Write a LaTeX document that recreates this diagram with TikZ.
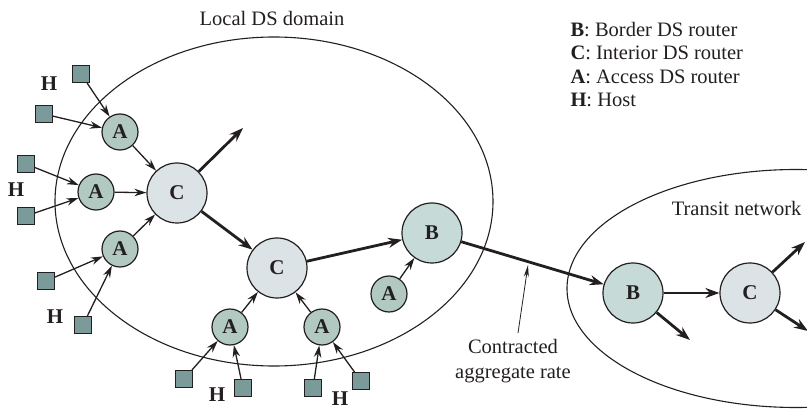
\documentclass[tikz,border=0pt]{standalone}
\usepackage{fontspec}
\setmainfont{Liberation Serif}
\usetikzlibrary{arrows.meta}
\definecolor{afill}{HTML}{B1C9C1}
\definecolor{bfill}{HTML}{C6DBD8}
\definecolor{cfill}{HTML}{DCE3E6}
\definecolor{hfill}{HTML}{7B9B9B}
\definecolor{ink}{HTML}{231F20}
\begin{document}
\begin{tikzpicture}[x=1pt,y=-1pt,
  every node/.style={font=\fontsize{20.5}{24}\selectfont, text=ink},
  anode/.style={circle,draw=ink,line width=1.2pt,fill=afill,minimum size=36pt,inner sep=0pt,font=\fontsize{21}{24}\selectfont\bfseries},
  bnode/.style={anode,fill=bfill,minimum size=60pt},
  cnode/.style={anode,fill=cfill,minimum size=60pt},
  host/.style={rectangle,draw=ink,line width=1pt,fill=hfill,minimum size=17pt,inner sep=0pt},
  hlab/.style={font=\fontsize{21}{24}\selectfont\bfseries,inner sep=1pt},
  tarrow/.style={draw=ink,line width=1.3pt,-{Stealth[length=12pt,width=7.5pt]}},
  karrow/.style={draw=ink,line width=2.8pt,-{Stealth[length=14pt,width=10pt]}},
  parrow/.style={draw=ink,line width=0.8pt,-{Stealth[length=12pt,width=5pt]}},
  dsregion/.style={draw=ink,line width=1.1pt}
]
\useasboundingbox (0,0) rectangle (807,409);
\clip (0,0) rectangle (807,409);

% domains
\draw[dsregion] (274,201.5) ellipse [x radius=219, y radius=164.5];
\draw[dsregion] (796,288.5) ellipse [x radius=229, y radius=119];

% labels
\node[anchor=base] (ldl) at (272,26) {Local DS domain};
\node[anchor=base east] (tnl) at (805,216) {Transit network};
\node[anchor=base west] (lg1) at (567,37) {\textbf{B}: Border DS router};
\node[anchor=base west] (lg2) at (567,60) {\textbf{C}: Interior DS router};
\node[anchor=base west] (lg3) at (567,84) {\textbf{A}: Access DS router};
\node[anchor=base west] (lg4) at (567,107) {\textbf{H}: Host};
\node[anchor=base] (ct1) at (513,353) {Contracted};
\node[anchor=base] (ct2) at (513,378) {aggregate rate};

% routers
\node[anode] (a1) at (120,132) {A};
\node[anode] (a2) at (96,192) {A};
\node[anode] (a3) at (120,249) {A};
\node[cnode] (c1) at (177,193) {C};
\node[cnode] (c2) at (277,268) {C};
\node[bnode] (b1) at (432,233) {B};
\node[anode] (a4) at (389,294) {A};
\node[anode] (a5) at (230,327) {A};
\node[anode] (a6) at (322,327) {A};
\node[bnode] (b2) at (633,293) {B};
\node[cnode] (c3) at (750,293) {C};

% hosts
\node[host] (h1) at (81,74) {};
\node[host] (h2) at (44,114) {};
\node[host] (h3) at (26,164) {};
\node[host] (h4) at (26,216) {};
\node[host] (h5) at (46,281) {};
\node[host] (h6) at (83,325) {};
\node[host] (h7) at (184,379) {};
\node[host] (h8) at (243,388) {};
\node[host] (h9) at (313,388) {};
\node[host] (h10) at (361,381) {};

% host labels
\node[hlab] (hl1) at (49,84) {H};
\node[hlab] (hl2) at (16,190) {H};
\node[hlab] (hl3) at (55,317) {H};
\node[hlab] (hl4) at (217,395) {H};
\node[hlab] (hl5) at (340,399) {H};

% free ends
\coordinate (o1) at (243,128);
\coordinate (o2) at (690,340);
\coordinate (o3) at (805,242);
\coordinate (o4) at (808,331);
\coordinate (rateFoot) at (518,333);
\coordinate (rateTip) at (528,265);

% host links
\draw[tarrow] (h1) -- (a1);
\draw[tarrow] (h2) -- (a1);
\draw[tarrow] (h3) -- (a2);
\draw[tarrow] (h4) -- (a2);
\draw[tarrow] (h5) -- (a3);
\draw[tarrow] (h6) -- (a3);
\draw[tarrow] (h7) -- (a5);
\draw[tarrow] (h8) -- (a5);
\draw[tarrow] (h9) -- (a6);
\draw[tarrow] (h10) -- (a6);

% access links
\draw[tarrow] (a1) -- (c1);
\draw[tarrow] (a2) -- (c1);
\draw[tarrow] (a3) -- (c1);
\draw[tarrow] (a5) -- (c2);
\draw[tarrow] (a6) -- (c2);
\draw[tarrow] (a4) -- (b1);

% core links
\draw[karrow] (c1) -- (o1);
\draw[karrow] (c1) -- (c2);
\draw[karrow] (c2) -- (b1);
\draw[karrow] (b1) -- (b2);
\draw[karrow] (b2) -- (c3);
\draw[karrow] (b2) -- (o2);
\draw[karrow] (c3) -- (o3);
\draw[karrow] (c3) -- (o4);

% pointer
\draw[parrow] (rateFoot) -- (rateTip);
\end{tikzpicture}
\end{document}
